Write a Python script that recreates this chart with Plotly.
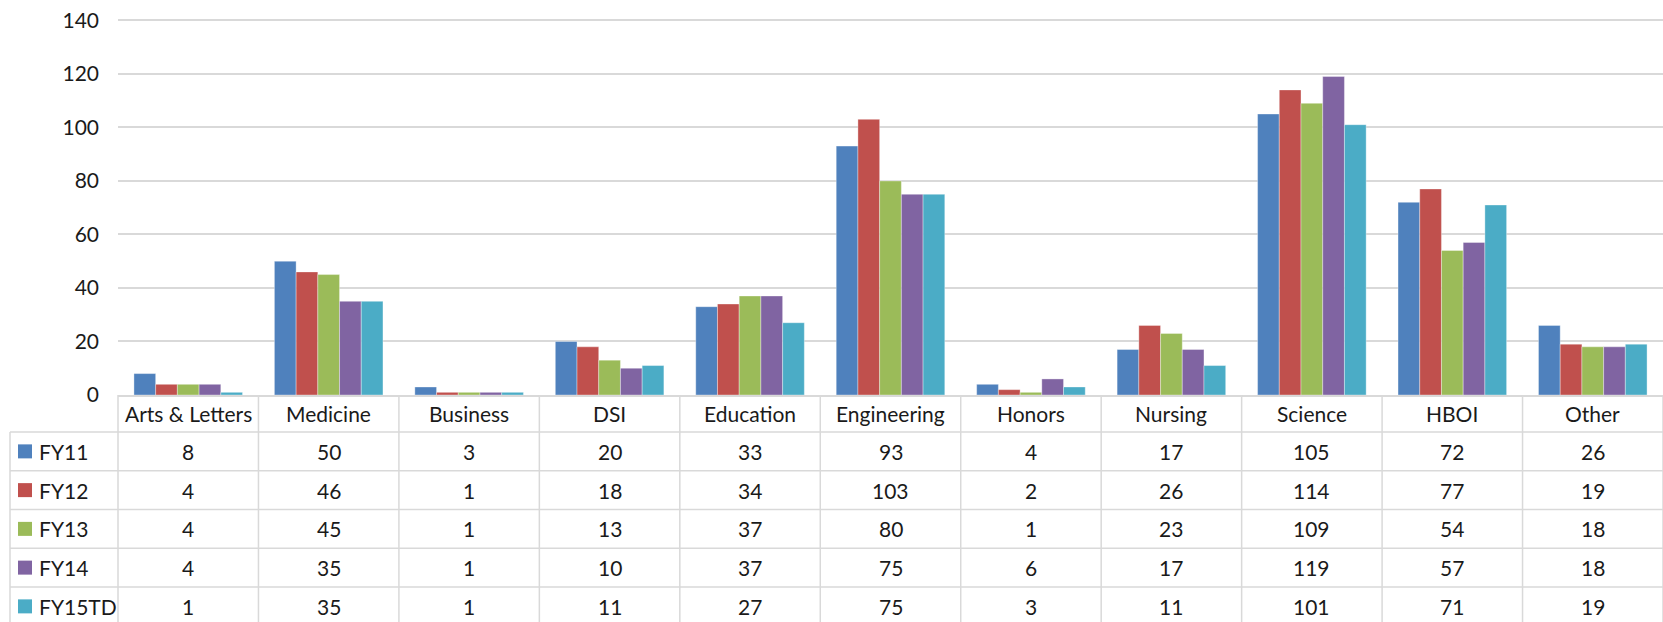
import plotly.graph_objects as go

categories = ["Arts & Letters", "Medicine", "Business", "DSI", "Education",
              "Engineering", "Honors", "Nursing", "Science", "HBOI", "Other"]
series_names = ["FY11", "FY12", "FY13", "FY14", "FY15TD"]
fy11 = [8, 50, 3, 20, 33, 93, 4, 17, 105, 72, 26]
fy12 = [4, 46, 1, 18, 34, 103, 2, 26, 114, 77, 19]
fy13 = [4, 45, 1, 13, 37, 80, 1, 23, 109, 54, 18]
fy14 = [4, 35, 1, 10, 37, 75, 6, 17, 119, 57, 18]
fy15td = [1, 35, 1, 11, 27, 75, 3, 11, 101, 71, 19]
series_values = [fy11, fy12, fy13, fy14, fy15td]
colors = ["#4F81BD", "#C0504D", "#9BBB59", "#8064A2", "#4BACC6"]
y_ticks = [0, 20, 40, 60, 80, 100, 120, 140]

W, H = 1663, 622
ML, MR, MT, MB = 118, 0, 19, 227
Y_MAX = 140.5
FONT = "Lato"
TXT = "#1a1a1a"
GRID = "#D9D9D9"
FS = 21

plot_w = W - ML - MR
plot_h = H - MT - MB
base_px = H - MB  # pixel of y=0


def py2paper(py):
    return (base_px - py) / plot_h


def px2paper(px):
    return (px - ML) / plot_w


fig = go.Figure()
for name, vals, col in zip(series_names, series_values, colors):
    fig.add_trace(go.Bar(
        x=categories, y=vals, name=name,
        marker=dict(color=col, line=dict(color="rgba(255,255,255,0.35)", width=1)),
        showlegend=False,
    ))

# table geometry (pixels)
header_h = 37
row_h = 38.75
header_top = base_px
rows_top = header_top + header_h
n_cols = len(categories)

annotations = []
shapes = []

# header labels
for i, c in enumerate(categories):
    annotations.append(dict(
        x=c, xref="x", y=py2paper(header_top + header_h / 2), yref="paper",
        text=c, showarrow=False, xanchor="center", yanchor="middle", borderpad=0,
        font=dict(family=FONT, size=FS, color=TXT)))

# rows
for r, (name, vals, col) in enumerate(zip(series_names, series_values, colors)):
    cy = rows_top + r * row_h + row_h / 2
    annotations.append(dict(
        x=px2paper(38), xref="paper", y=py2paper(cy), yref="paper",
        text=name, showarrow=False, xanchor="left", yanchor="middle", borderpad=0,
        font=dict(family=FONT, size=FS, color=TXT)))
    shapes.append(dict(
        type="rect", xref="paper", yref="paper",
        x0=px2paper(18), x1=px2paper(32), y0=py2paper(cy - 7), y1=py2paper(cy + 7),
        fillcolor=col, line=dict(width=0)))
    for c, v in zip(categories, vals):
        annotations.append(dict(
            x=c, xref="x", y=py2paper(cy), yref="paper",
            text=str(v), showarrow=False, xanchor="center", yanchor="middle", borderpad=0,
            font=dict(family=FONT, size=FS, color=TXT)))

# horizontal table lines
for r in range(len(series_names)):
    yy = rows_top + r * row_h
    shapes.append(dict(type="line", xref="paper", yref="paper",
                       x0=px2paper(10), x1=1, y0=py2paper(yy), y1=py2paper(yy),
                       line=dict(color=GRID, width=1.5)))
# vertical table lines
bottom_py = H + 5
shapes.append(dict(type="line", xref="paper", yref="paper",
                   x0=px2paper(10), x1=px2paper(10), y0=py2paper(rows_top), y1=py2paper(bottom_py),
                   line=dict(color=GRID, width=1.5)))
for k in range(n_cols + 1):
    shapes.append(dict(type="line", xref="paper", yref="paper",
                       x0=k / n_cols, x1=k / n_cols, y0=0, y1=py2paper(bottom_py),
                       line=dict(color=GRID, width=1.5)))

fig.update_layout(
    width=W, height=H,
    margin=dict(l=ML, r=MR, t=MT, b=MB, autoexpand=False),
    paper_bgcolor="white", plot_bgcolor="white",
    barmode="group", bargap=0.227, bargroupgap=0,
    font=dict(family=FONT, size=FS, color=TXT),
    xaxis=dict(range=[-0.5, n_cols - 0.5], showticklabels=False, showgrid=False,
               showline=True, linecolor=GRID, linewidth=1.5, ticks="", fixedrange=True),
    yaxis=dict(range=[0, Y_MAX], tickvals=y_ticks, showgrid=True, gridcolor=GRID, gridwidth=1.5,
               zeroline=False, showline=False, ticks="", ticklabelstandoff=18,
               tickfont=dict(family=FONT, size=FS, color=TXT)),
    annotations=annotations, shapes=shapes,
)

fig.write_html(
    "out.html",
    config={"displayModeBar": False},
    post_script="document.body.style.margin='0';document.body.style.overflow='hidden';",
)
